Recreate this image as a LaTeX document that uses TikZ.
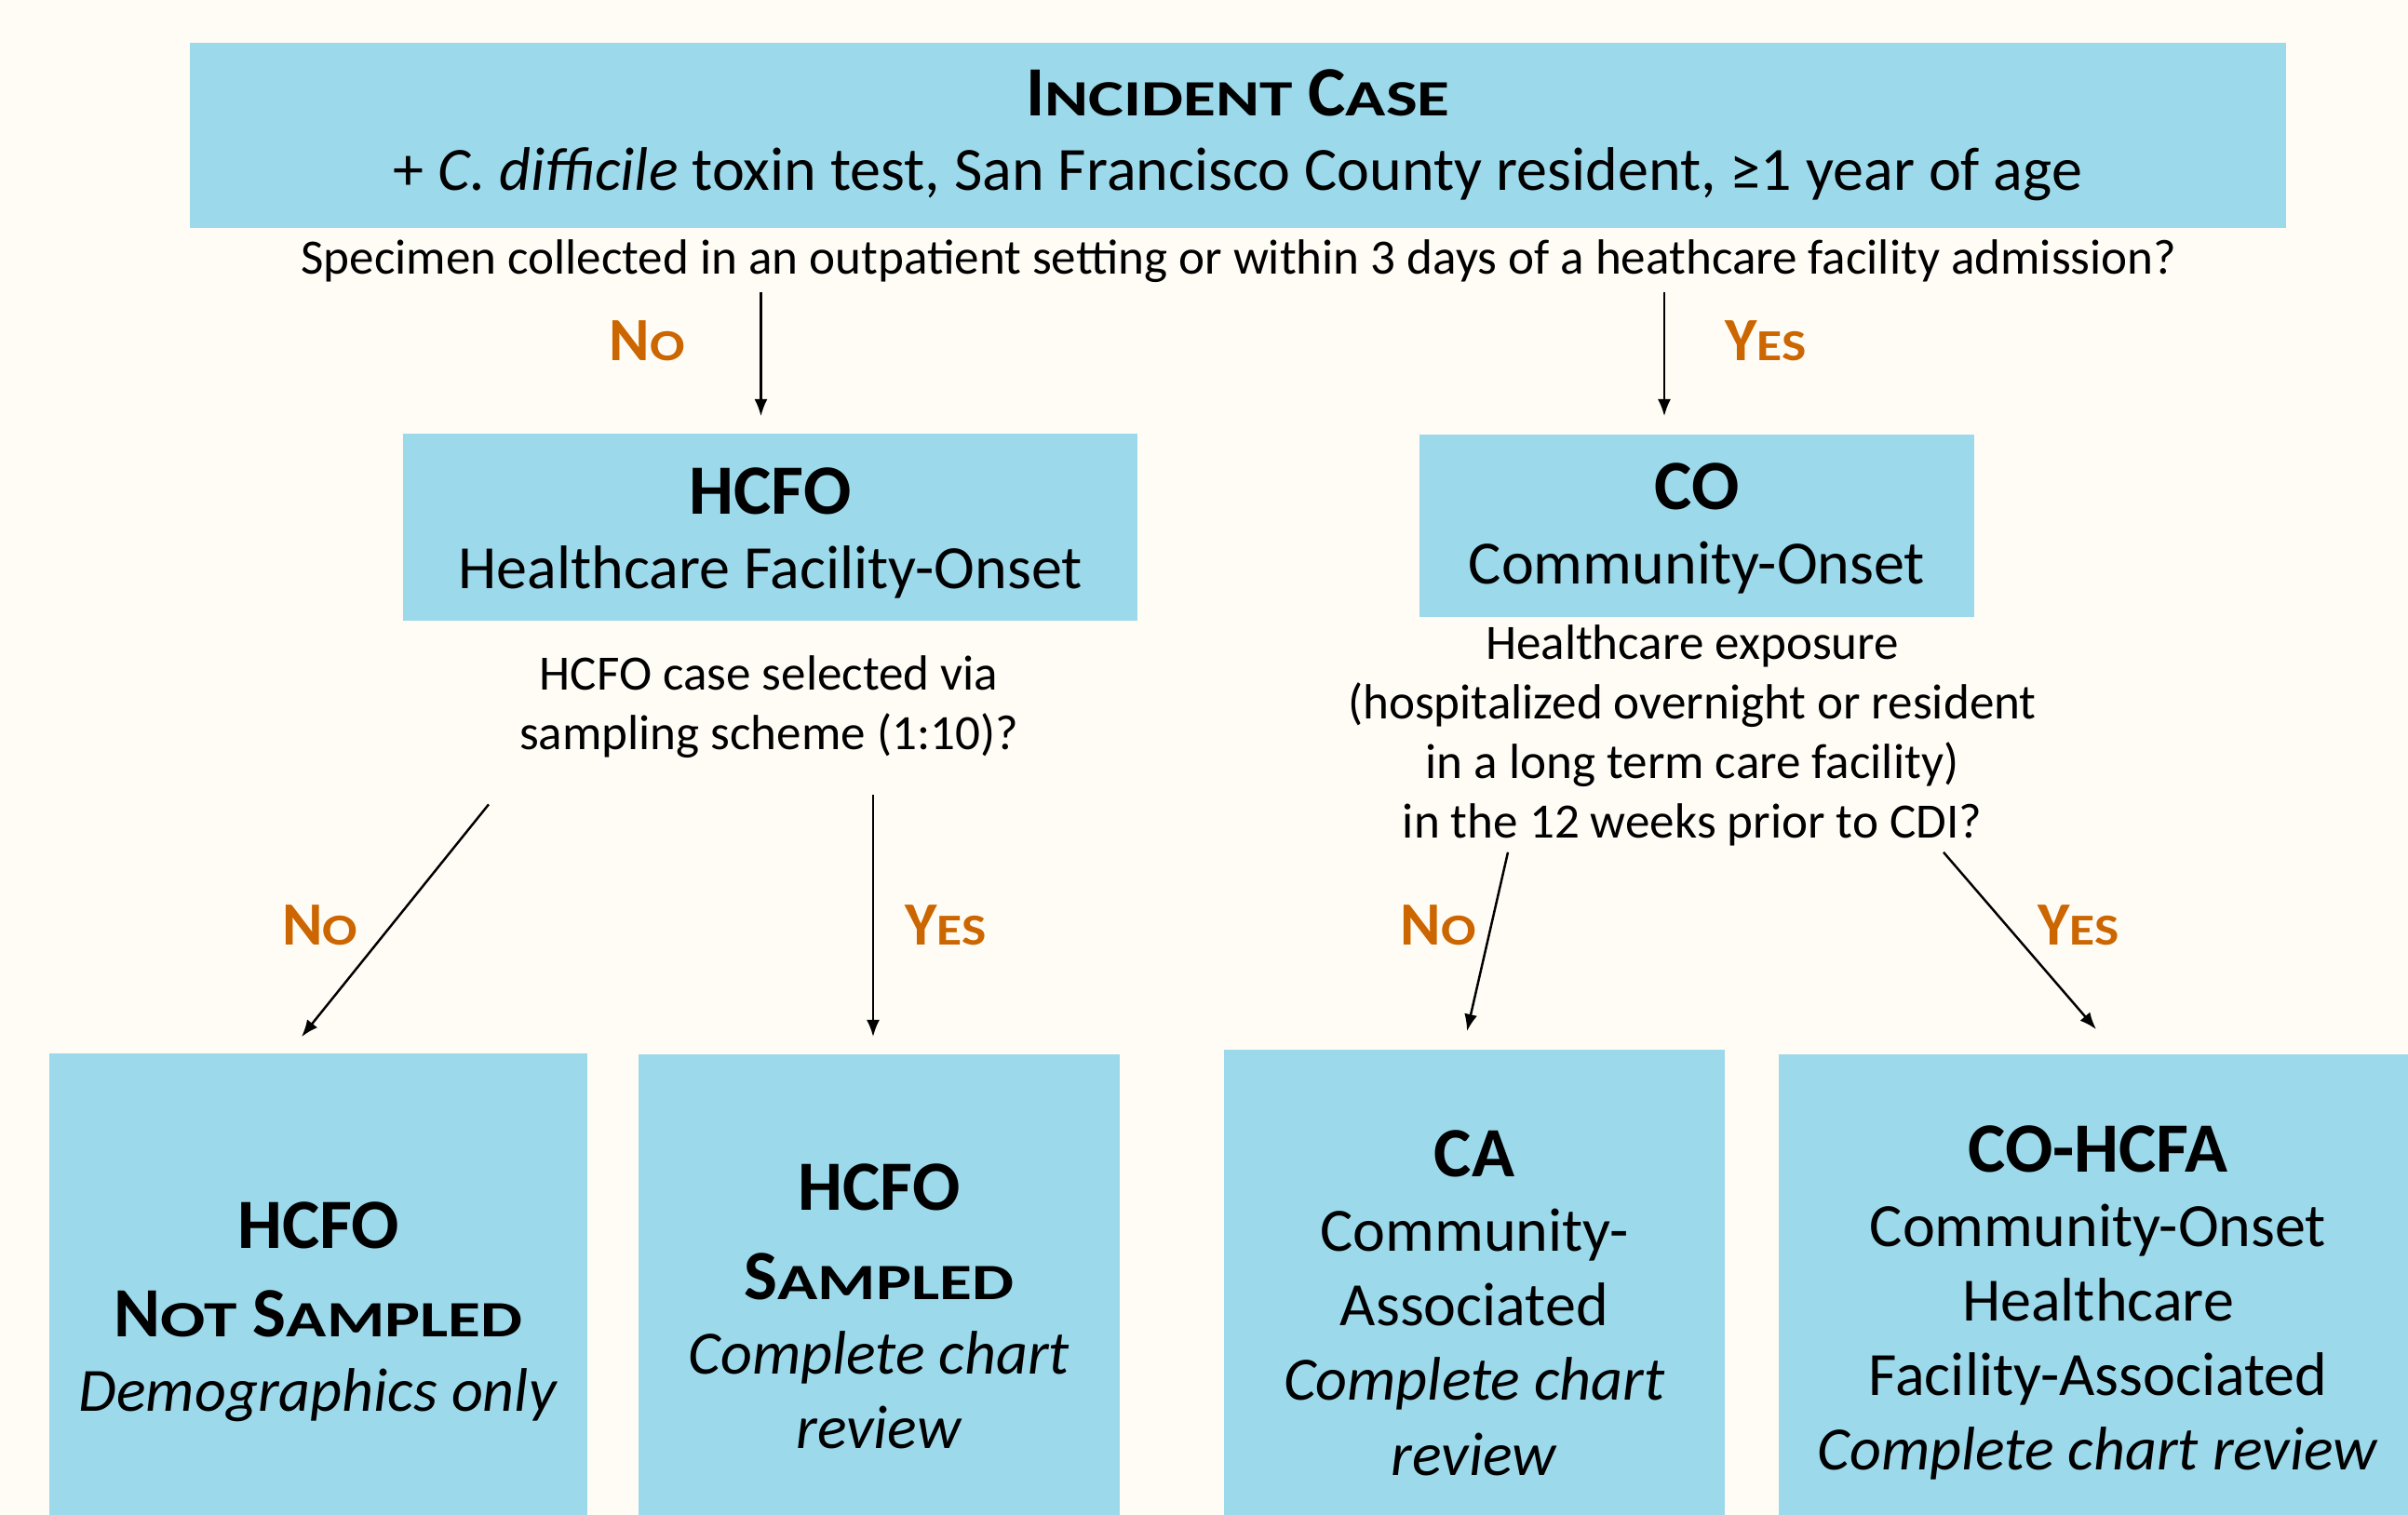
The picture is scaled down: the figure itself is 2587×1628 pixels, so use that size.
\documentclass[tikz,border=0pt]{standalone}
\usepackage{graphicx}
\usepackage{fontspec}
\setmainfont{Carlito}
\usetikzlibrary{arrows.meta,positioning,calc}

\definecolor{paper}{RGB}{255,252,246}
\definecolor{boxblue}{RGB}{155,217,235}
\definecolor{answer}{RGB}{204,102,0}

\newcommand\bodyfont{\fontsize{18.8}{22.8}\selectfont}
\newcommand\askfont{\fontsize{15.1}{18.2}\selectfont}
\newcommand\headfont{\fontsize{21.6}{22.8}\selectfont\bfseries}
\newcommand\tinycap[2][0.94]{\scalebox{#1}[0.72]{#2}}

\begin{document}
\begin{tikzpicture}[x=0.01cm,y=-0.01cm,
  box/.style={fill=boxblue,inner sep=0pt,align=center,font=\bodyfont},
  ask/.style={align=center,font=\askfont,inner sep=0pt},
  reply/.style={text=answer,font=\bodyfont\bfseries,inner sep=0pt,anchor=base},
  flow/.style={-{Latex[length=5.2pt,width=4pt]},line width=0.7pt}]

\useasboundingbox (0,0) rectangle (2587,1628);
\clip (0,0) rectangle (2587,1628);
\fill[paper] (0,0) rectangle (2587,1628);

% first split
\node[box,minimum width=22.5cm,minimum height=1.99cm] (incident) at (1330,145.5)
  {{\headfont I\tinycap{NCIDENT} C\tinycap{ASE}}\\
   + \textit{C. difficile} toxin test, San Francisco County resident, ≥1 year of age};
\node[ask,anchor=base] (onset) at (1331,295)
  {Specimen collected in an outpatient setting or within 3 days of a heathcare facility admission?};

\node[box,minimum width=7.89cm,minimum height=2.01cm] (hcfo) at (827.5,566.5)
  {{\headfont\rule{0pt}{17.6pt}HCFO}\\Healthcare Facility-Onset};
\node[box,minimum width=5.96cm,minimum height=1.96cm] (co) at (1823,565)
  {{\headfont\rule{0pt}{16pt}CO}\\Community-Onset};

\node[reply] (no0) at (695,388) {N\tinycap[0.84]{O}};
\node[reply] (yes0) at (1897,388) {Y\tinycap[0.84]{ES}};

\draw[flow] ($(onset.base -| hcfo.north)+(-10,19)$) -- ($(hcfo.north)+(-10,-18)$);
\draw[flow] ($(onset.base -| co.north)+(-35,19)$) -- ($(co.north)+(-35,-19)$);

% second split
\node[ask,anchor=north] (hcfoq) at (826,704)
  {HCFO case selected via\\sampling scheme (1:10)?};
\node[ask,anchor=north] (coq) at (1818,671)
  {Healthcare exposure\\(hospitalized overnight or resident\\in a long term care facility)\\in the 12 weeks prior to CDI?};

\node[box,minimum width=5.78cm,minimum height=5.56cm] (nosample) at (342,1410)
  {{\headfont HCFO}\\[4.3pt]{\headfont N\tinycap{OT} S\tinycap{AMPLED}}\\\textit{Demographics only}};
\node[box,minimum width=5.17cm,minimum height=5.42cm] (sample) at (944.5,1404)
  {{\headfont HCFO}\\[4.5pt]{\headfont S\tinycap{AMPLED}}\\\textit{Complete chart}\\\textit{review}};
\node[box,minimum width=5.38cm,minimum height=5.44cm] (ca) at (1584,1400)
  {{\headfont CA}\\Community-\\Associated\\\textit{Complete chart}\\\textit{review}};
\node[box,minimum width=6.86cm,minimum height=5.34cm] (cohcfa) at (2254,1400)
  {{\headfont CO-HCFA}\\Community-Onset\\Healthcare\\Facility-Associated\\\textit{Complete chart review}};

\node[reply] (no1) at (344,1015) {N\tinycap[0.84]{O}};
\node[reply] (yes1) at (1016,1015) {Y\tinycap[0.84]{ES}};
\node[reply] (no2) at (1545,1015) {N\tinycap[0.84]{O}};
\node[reply] (yes2) at (2233,1015) {Y\tinycap[0.84]{ES}};

\draw[flow] ($(hcfoq.south)+(-301,49)$) -- ($(nosample.north)+(-18,-17)$);
\draw[flow] ($(hcfoq.south)+(112,39)$) -- ($(sample.north)+(-6.5,-18)$);
\draw[flow] ($(coq.south)+(-198,6)$) -- ($(ca.north)+(-8,-19)$);
\draw[flow] ($(coq.south)+(270,6)$) -- ($(cohcfa.north)+(-2,-26)$);
\end{tikzpicture}
\end{document}
